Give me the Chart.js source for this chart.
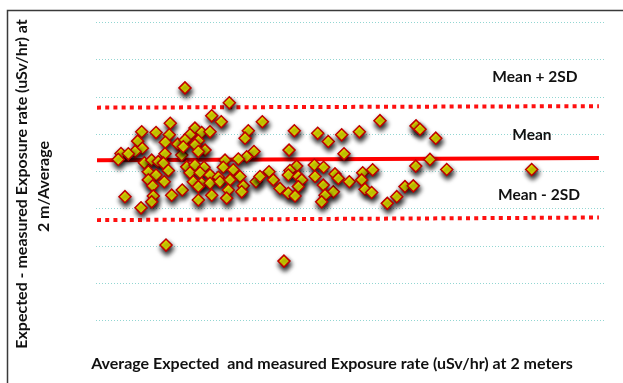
<!DOCTYPE html>
<html>
<head>
<meta charset="utf-8">
<script src="https://cdn.jsdelivr.net/npm/chart.js@4.4.1/dist/chart.umd.min.js"></script>
<style>
  html, body { margin: 0; padding: 0; background: #ffffff; }
  #wrap { width: 623px; height: 383px; position: relative; }
</style>
</head>
<body>
<div id="wrap"><canvas id="c" width="623" height="383"></canvas></div>
<script>
// ---- data ----
const pointX = [
  8.76,7.31,4.50,5.91,7.21,4.10,6.82,8.04,4.56,3.84,2.46,3.18,6.79,8.44,2.19,4.76,5.48,6.13,6.63,7.12,5.15,5.91,5.15,6.72,5.58,8.49,2.85,5.64,7.45,5.48,4.43,
  13.12,11.39,12.33,9.74,10.40,11.22,14.99,9.25,14.67,8.76,10.07,9.74,8.59,10.73,10.07,15.55,14.83,12.70,14.01,8.93,9.74,10.63,12.53,13.51,9.25,10.24,11.22,12.04,14.17,9.58,10.40,11.22,12.20,13.19,14.50,15.75,10.07,13.02,14.34,11.39,12.86,10.07,
  16.37,19.52,21.82,22.86,19.00,19.75,19.09,21.49,22.40,17.03,16.14,17.45,18.93,19.91,21.56,20.25,18.11,19.91,22.37,18.93,19.59,23.36,22.54,22.21,
  27.95,24.18,25.92,24.41,23.52,23.85,24.93,26.25,27.23,26.15,26.48,27.13,30.41,29.60,28.67,
  31.50,31.89,33.44,32.87,31.47,34.52,42.88,31.23,
  6.89,18.50
];
const pointY = [
  2.25,1.30,1.07,1.05,0.99,0.82,0.79,0.74,0.63,0.54,0.49,0.48,0.48,0.45,0.33,0.24,0.31,0.27,0.23,0.03,0.00,-0.09,-0.22,-0.27,-0.38,-0.49,-0.67,-0.65,-0.63,-0.81,-0.97,
  1.85,1.50,1.34,1.17,1.05,1.07,1.10,0.99,0.90,0.85,0.83,0.72,0.67,0.58,0.54,0.54,0.40,0.31,0.34,0.13,0.18,0.12,0.12,0.05,-0.03,-0.03,-0.09,-0.15,-0.13,-0.27,-0.31,-0.31,-0.27,-0.22,-0.38,-0.27,-0.40,-0.49,-0.54,-0.63,-0.71,-0.76,
  1.34,1.10,1.03,0.81,0.58,0.15,0.03,0.18,0.12,0.00,-0.13,-0.22,-0.09,-0.13,-0.13,-0.22,-0.45,-0.40,-0.36,-0.58,-0.65,-0.54,-0.63,-0.81,
  1.37,0.99,1.07,0.48,-0.06,-0.18,-0.27,-0.03,0.05,-0.22,-0.47,-0.56,-0.40,-0.67,-0.85,
  1.23,1.14,0.90,0.33,0.15,0.06,0.06,-0.38,
  -1.97,-2.40
];
const lineX = [0.1, 49.5];
const meanLineY = [0.31, 0.37];
const upperLineY = [1.72, 1.76];
const lowerLineY = [-1.30, -1.23];
const xRange = [0, 50];
const yRange = [-4, 4];
const yStep = 1;
const lineLabels = ['Mean + 2SD', 'Mean', 'Mean - 2SD'];
const lineLabelX = [43.2, 42.9, 43.6];
const lineLabelY = [2.54, 0.99, -0.63];
const yTitleLines = ['Expected - measured Exposure rate (uSv/hr) at', '2 m/Average'];
const xTitle = 'Average Expected  and measured Exposure rate (uSv/hr) at 2 meters';

// ---- build datasets ----
const pts = pointX.map((x, i) => ({ x: x, y: pointY[i] }));
const mkLine = (ys) => lineX.map((x, i) => ({ x: x, y: ys[i] }));

const FONT = 'bold 16px Lato, "Open Sans", sans-serif';
const LABEL_FONT = 'bold 15.5px Lato, "Open Sans", sans-serif';

const shadowPlugin = {
  id: 'shadow',
  beforeDatasetDraw(chart, args) {
    if (args.index !== 0) return;
    const ctx = chart.ctx;
    ctx.save();
    ctx.shadowColor = 'rgba(0,0,0,0.95)';
    ctx.shadowBlur = 5;
    ctx.shadowOffsetX = 1;
    ctx.shadowOffsetY = 3.5;
  },
  afterDatasetDraw(chart, args) {
    if (args.index !== 0) return;
    chart.ctx.restore();
  }
};

const decorPlugin = {
  id: 'decor',
  afterDraw(chart) {
    const ctx = chart.ctx;
    const xs = chart.scales.x, ys = chart.scales.y;
    ctx.save();
    // frame
    ctx.strokeStyle = '#3a3a3a';
    ctx.lineWidth = 1.5;
    ctx.beginPath();
    ctx.moveTo(7.5, 383);
    ctx.lineTo(7.5, 10.5);
    ctx.lineTo(623, 10.5);
    ctx.stroke();
    ctx.fillStyle = '#111';
    ctx.textAlign = 'center';
    ctx.textBaseline = 'middle';
    // line labels
    ctx.font = LABEL_FONT;
    lineLabels.forEach((t, i) => {
      ctx.fillText(t, xs.getPixelForValue(lineLabelX[i]), ys.getPixelForValue(lineLabelY[i]));
    });
    ctx.font = FONT;
    // x title
    ctx.fillText(xTitle, 332, 364);
    // y title
    ctx.save();
    ctx.translate(22, 184);
    ctx.rotate(-Math.PI / 2);
    ctx.fillText(yTitleLines[0], 0, 0);
    ctx.restore();
    ctx.save();
    ctx.translate(44, 186.5);
    ctx.rotate(-Math.PI / 2);
    ctx.fillText(yTitleLines[1], 0, 0);
    ctx.restore();
    ctx.restore();
  }
};

new Chart(document.getElementById('c'), {
  type: 'scatter',
  data: {
    datasets: [
      {
        data: pts,
        order: 0,
        pointStyle: 'rectRot',
        pointRadius: 6,
        pointBackgroundColor: '#ffff00',
        pointBorderColor: '#c00000',
        pointBorderWidth: 1.5,
        showLine: false
      },
      {
        type: 'line', data: mkLine(meanLineY), order: 1,
        borderColor: '#ff0000', borderWidth: 4, pointRadius: 0, fill: false, showLine: true
      },
      {
        type: 'line', data: mkLine(upperLineY), order: 1,
        borderColor: '#ff1010', borderWidth: 4, borderDash: [4, 4.2], pointRadius: 0, fill: false, showLine: true
      },
      {
        type: 'line', data: mkLine(lowerLineY), order: 1,
        borderColor: '#ff1010', borderWidth: 4, borderDash: [4, 4.2], pointRadius: 0, fill: false, showLine: true
      }
    ]
  },
  options: {
    responsive: false,
    devicePixelRatio: 1,
    animation: false,
    layout: { padding: { left: 96, right: 19, top: 22.7, bottom: 62.3 } },
    plugins: { legend: { display: false }, tooltip: { enabled: false } },
    scales: {
      x: { type: 'linear', min: xRange[0], max: xRange[1], display: false },
      y: {
        type: 'linear', min: yRange[0], max: yRange[1],
        ticks: { display: false, stepSize: yStep },
        grid: { drawTicks: false, color: 'rgba(110,200,195,0.75)', lineWidth: 1 },
        border: { display: false, dash: [1, 2] }
      }
    }
  },
  plugins: [shadowPlugin, decorPlugin]
});
</script>
</body>
</html>
